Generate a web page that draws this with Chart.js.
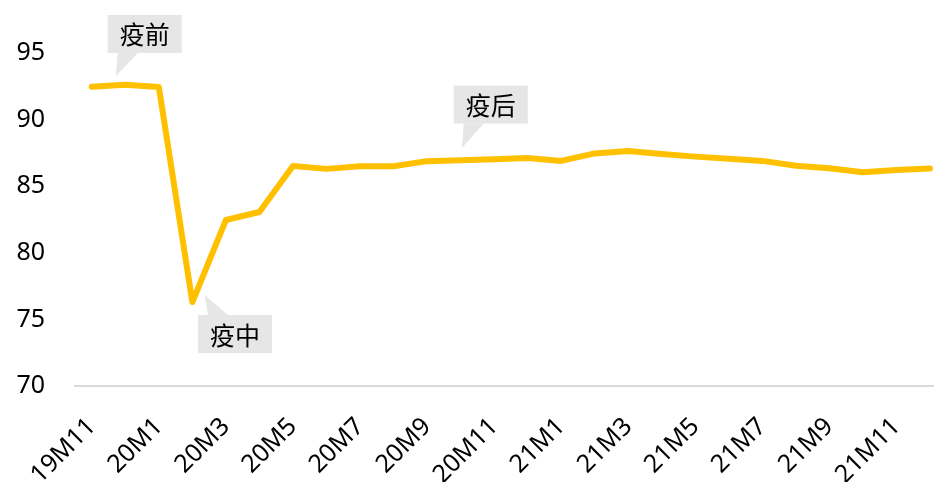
<!DOCTYPE html>
<html>
<head>
<meta charset="utf-8">
<script src="https://cdn.jsdelivr.net/npm/chart.js@4/dist/chart.umd.min.js"></script>
<style>
html,body{margin:0;padding:0;background:#fff;}
#wrap{width:934px;height:482px;}
</style>
</head>
<body>
<div id="wrap"><canvas id="c"></canvas></div>
<script>
const categories = ['19M11','19M12','20M1','20M2','20M3','20M4','20M5','20M6','20M7','20M8','20M9','20M10','20M11','20M12',
  '21M1','21M2','21M3','21M4','21M5','21M6','21M7','21M8','21M9','21M10','21M11','21M12'];
const values = [92.47,92.62,92.45,76.3,82.46,83.06,86.52,86.3,86.5,86.5,86.88,86.95,87.02,87.12,
  86.9,87.46,87.64,87.42,87.22,87.06,86.9,86.54,86.34,86.04,86.22,86.32];
const yTicks = [70,75,80,85,90,95];
const callouts = [
  {text:'疫前', tip:[0.72,93.27], box:[1.58,96.43], side:'bottom'},
  {text:'疫中', tip:[3.37,76.83], box:[4.27,73.9], side:'top'},
  {text:'疫后', tip:[11.04,87.87], box:[11.9,91.13], side:'bottom'}
];

const FONT = '"Noto Sans", "Noto Sans CJK SC", sans-serif';

const calloutPlugin = {
  id:'callouts',
  afterDatasetsDraw(chart){
    const {ctx, scales:{x,y}} = chart;
    const bw = 74, bh = 38;
    ctx.save();
    callouts.forEach(c=>{
      const tx = x.getPixelForValue(c.tip[0]), ty = y.getPixelForValue(c.tip[1]);
      const cx = x.getPixelForValue(c.box[0]), cy = y.getPixelForValue(c.box[1]);
      const l = cx - bw/2, t = cy - bh/2;
      ctx.fillStyle = '#e6e6e6';
      ctx.fillRect(l, t, bw, bh);
      ctx.beginPath();
      const by = c.side==='bottom' ? t+bh : t;
      ctx.moveTo(l+10, by);
      ctx.lineTo(tx, ty);
      ctx.lineTo(l+30, by);
      ctx.closePath();
      ctx.fill();
      ctx.fillStyle = '#000';
      ctx.font = '25px "Noto Sans CJK SC", sans-serif';
      ctx.textAlign = 'center';
      ctx.textBaseline = 'middle';
      ctx.fillText(c.text, cx, cy+1);
    });
    ctx.restore();
  }
};

new Chart(document.getElementById('c'), {
  type:'line',
  data:{
    datasets:[{
      data: values.map((v,i)=>({x:i, y:v})),
      borderColor:'#FFC000',
      borderWidth:6,
      borderCapStyle:'round',
      borderJoinStyle:'round',
      pointRadius:0,
      tension:0,
      clip:false
    }]
  },
  options:{
    responsive:true,
    maintainAspectRatio:false,
    animation:false,
    layout:{padding:{top:53,left:16,right:0,bottom:0}},
    plugins:{legend:{display:false}, tooltip:{enabled:false}},
    scales:{
      x:{
        type:'linear',
        min:-0.5,
        max:25.12,
        afterBuildTicks(scale){
          scale.ticks = categories.map((c,i)=>({value:i})).filter((t,i)=>i%2===0);
        },
        afterFit(scale){
          scale.paddingLeft = 0; scale.paddingRight = 0;
          scale.height = 96;
        },
        grid:{display:false, drawTicks:false},
        border:{display:true, color:'#d9d9d9', width:2},
        ticks:{
          autoSkip:false,
          minRotation:45, maxRotation:45,
          padding:26,
          color:'#000',
          font:{family:FONT, size:25},
          callback:(v)=>categories[v]
        }
      },
      y:{
        min:70, max:95,
        afterBuildTicks(scale){ scale.ticks = yTicks.map(v=>({value:v})); },
        afterFit(scale){ scale.width = 59; scale.paddingTop = 0; scale.paddingBottom = 0; },
        grid:{display:false, drawTicks:false},
        border:{display:false},
        ticks:{
          padding:30,
          color:'#000',
          font:{family:FONT, size:25}
        }
      }
    }
  },
  plugins:[calloutPlugin]
});
</script>
</body>
</html>
